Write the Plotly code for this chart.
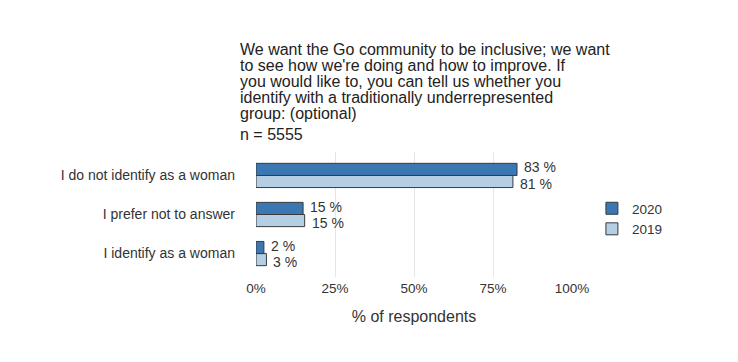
import plotly.graph_objects as go

categories = ["I identify as a woman", "I prefer not to answer", "I do not identify as a woman"]
values_2020 = [2.5, 14.9, 82.6]
values_2019 = [3.3, 15.4, 81.3]
x_ticks = [0, 25, 50, 75, 100]
x_tick_labels = ["0%", "25%", "50%", "75%", "100%"]

title_lines = [
    "We want the Go community to be inclusive; we want",
    "to see how we're doing and how to improve. If",
    "you would like to, you can tell us whether you",
    "identify with a traditionally underrepresented",
    "group: (optional)",
]
n_text = "n = 5555"

FONT = "Liberation Sans, Arial, sans-serif"
COL_2020 = "#3a77b3"
COL_2019 = "#b4cfe3"

fig = go.Figure()
fig.add_trace(go.Bar(
    y=categories, x=values_2019, name="2019", orientation="h",
    marker=dict(color=COL_2019, line=dict(color="#3a3a3a", width=1)),
))
fig.add_trace(go.Bar(
    y=categories, x=values_2020, name="2020", orientation="h",
    marker=dict(color=COL_2020, line=dict(color="#3a3a3a", width=1)),
))

# value labels
for cat, v in zip(categories, values_2020):
    fig.add_annotation(x=v, y=cat, xref="x", yref="y", text=f"{round(v)} %",
                       xanchor="left", yanchor="middle", xshift=5, yshift=8,
                       showarrow=False, font=dict(size=14, color="#333333", family=FONT))
for cat, v in zip(categories, values_2019):
    fig.add_annotation(x=v, y=cat, xref="x", yref="y", text=f"{round(v)} %",
                       xanchor="left", yanchor="middle", xshift=5, yshift=-8.6,
                       showarrow=False, font=dict(size=14, color="#333333", family=FONT))

fig.update_layout(
    width=738, height=362,
    margin=dict(l=248, r=174, t=144, b=93),
    paper_bgcolor="white", plot_bgcolor="white",
    font=dict(family=FONT, size=12, color="#333333"),
    barmode="group", bargap=0.38, bargroupgap=0,
    showlegend=True,
    legend=dict(x=1.063, y=0.464, xanchor="left", yanchor="middle",
                traceorder="reversed", font=dict(size=13.5, color="#333333"),
                itemwidth=30, tracegroupgap=0, bgcolor="rgba(0,0,0,0)"),
)
fig.update_xaxes(
    range=[0, 100], tickvals=x_ticks, ticktext=x_tick_labels,
    showgrid=True, gridcolor="#e6e6e6", gridwidth=1, zeroline=False,
    showline=False, ticks="", ticklabelstandoff=1,
    tickfont=dict(size=13.5, color="#333333"),
    title=dict(text="% of respondents", font=dict(size=16, color="#333333"), standoff=16),
)
fig.update_yaxes(
    categoryorder="array", categoryarray=categories,
    range=[-0.6, 2.6], showgrid=False, zeroline=False, showline=False,
    ticks="", ticklabelstandoff=20, tickfont=dict(size=14, color="#333333"),
)

title_shifts = [92, 76, 60, 44, 28]
for line, ys in zip(title_lines, title_shifts):
    fig.add_annotation(
        text=line, xref="paper", yref="paper", x=-0.057, y=1.0, xanchor="left", yanchor="bottom",
        yshift=ys, showarrow=False, font=dict(size=16, color="#222222", family=FONT),
    )
fig.add_annotation(
    text=n_text, xref="paper", yref="paper", x=-0.057, y=1.0, xanchor="left", yanchor="bottom",
    yshift=7, showarrow=False, font=dict(size=16, color="#222222", family=FONT),
)

fig.write_html("out.html")
